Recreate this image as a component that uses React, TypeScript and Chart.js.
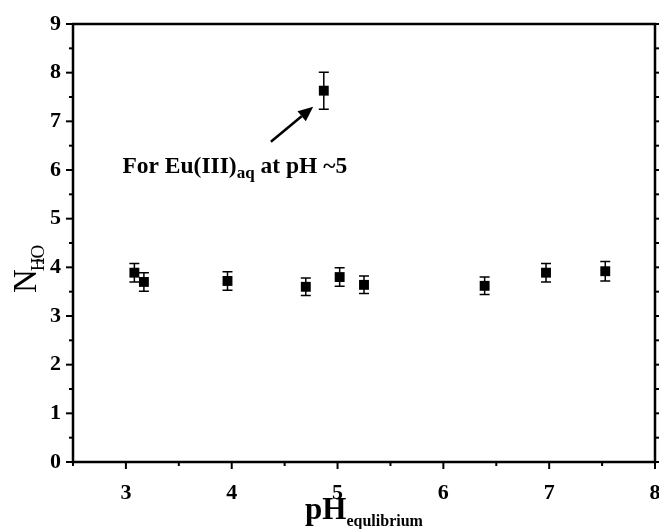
import React, { useEffect, useRef } from "react";
import { Chart, registerables } from "chart.js";

Chart.register(...registerables);

// ---- data ----
const phValues = [3.08, 3.17, 3.96, 4.70, 5.02, 5.25, 6.39, 6.97, 7.53, 4.87];
const nH2OValues = [3.89, 3.70, 3.72, 3.60, 3.80, 3.64, 3.62, 3.89, 3.92, 7.63];
const nH2OErrors = [0.19, 0.19, 0.19, 0.18, 0.19, 0.18, 0.18, 0.19, 0.20, 0.38];

const xMajorTicks = [3, 4, 5, 6, 7, 8];
const xMinorTicks = [2.5, 3.5, 4.5, 5.5, 6.5, 7.5];
const yMajorTicks = [0, 1, 2, 3, 4, 5, 6, 7, 8, 9];
const yMinorTicks = [0.5, 1.5, 2.5, 3.5, 4.5, 5.5, 6.5, 7.5, 8.5];

const annotationMain = "For Eu(III)";
const annotationSub = "aq";
const annotationRest = " at pH ~5";
const annotationAnchor = { x: 2.967, y: 5.94 };
const arrowTail = { x: 4.37, y: 6.58 };
const arrowHead = { x: 4.77, y: 7.3 };

const xTitleMain = "pH";
const xTitleSub = "equlibrium";
const yTitleMain = "N";
const yTitleSub = ["H", "2", "O"];

const SERIF = "'Liberation Serif', 'Times New Roman', serif";

const decorPlugin = {
  id: "decor",
  beforeDatasetsDraw(chart: any) {
    const ctx = chart.ctx;
    const xs = chart.scales.x;
    const ys = chart.scales.y;
    ctx.save();
    ctx.strokeStyle = "#000";
    ctx.lineWidth = 1.5;
    for (let i = 0; i < phValues.length; i++) {
      const px = xs.getPixelForValue(phValues[i]);
      const top = ys.getPixelForValue(nH2OValues[i] + nH2OErrors[i]);
      const bot = ys.getPixelForValue(nH2OValues[i] - nH2OErrors[i]);
      ctx.beginPath();
      ctx.moveTo(px, top);
      ctx.lineTo(px, bot);
      ctx.moveTo(px - 5, top);
      ctx.lineTo(px + 5, top);
      ctx.moveTo(px - 5, bot);
      ctx.lineTo(px + 5, bot);
      ctx.stroke();
    }
    ctx.restore();
  },
  afterDraw(chart: any) {
    const ctx = chart.ctx;
    const xs = chart.scales.x;
    const ys = chart.scales.y;
    const a = chart.chartArea;
    ctx.save();
    ctx.strokeStyle = "#000";
    ctx.fillStyle = "#000";
    ctx.lineWidth = 2.5;
    ctx.strokeRect(a.left, a.top, a.right - a.left, a.bottom - a.top);

    ctx.lineWidth = 2;
    const tick = (x1: number, y1: number, x2: number, y2: number) => {
      ctx.beginPath();
      ctx.moveTo(x1, y1);
      ctx.lineTo(x2, y2);
      ctx.stroke();
    };
    xMajorTicks.forEach((v) => {
      const p = xs.getPixelForValue(v);
      tick(p, a.bottom, p, a.bottom + 7);
    });
    xMinorTicks.forEach((v) => {
      const p = xs.getPixelForValue(v);
      tick(p, a.bottom, p, a.bottom + 4);
    });
    yMajorTicks.forEach((v) => {
      const p = ys.getPixelForValue(v);
      tick(a.left, p, a.left - 7, p);
      tick(a.right, p, a.right + 7, p);
    });
    yMinorTicks.forEach((v) => {
      const p = ys.getPixelForValue(v);
      tick(a.left, p, a.left - 4, p);
      tick(a.right, p, a.right + 4, p);
    });

    // arrow
    const tx = xs.getPixelForValue(arrowTail.x);
    const ty = ys.getPixelForValue(arrowTail.y);
    const hx = xs.getPixelForValue(arrowHead.x);
    const hy = ys.getPixelForValue(arrowHead.y);
    const ang = Math.atan2(hy - ty, hx - tx);
    const hl = 15;
    const hw = 6.5;
    const bx = hx - hl * Math.cos(ang);
    const by = hy - hl * Math.sin(ang);
    ctx.lineWidth = 2.5;
    ctx.beginPath();
    ctx.moveTo(tx, ty);
    ctx.lineTo(bx, by);
    ctx.stroke();
    ctx.beginPath();
    ctx.moveTo(hx, hy);
    ctx.lineTo(bx + hw * Math.sin(ang), by - hw * Math.cos(ang));
    ctx.lineTo(bx - hw * Math.sin(ang), by + hw * Math.cos(ang));
    ctx.closePath();
    ctx.fill();

    // annotation text
    const ax = xs.getPixelForValue(annotationAnchor.x);
    const ay = ys.getPixelForValue(annotationAnchor.y);
    ctx.textAlign = "left";
    ctx.textBaseline = "alphabetic";
    ctx.font = `bold 23.5px ${SERIF}`;
    ctx.fillText(annotationMain, ax, ay);
    let cx = ax + ctx.measureText(annotationMain).width;
    ctx.font = `bold 17px ${SERIF}`;
    ctx.fillText(annotationSub, cx, ay + 5);
    cx += ctx.measureText(annotationSub).width;
    ctx.font = `bold 23.5px ${SERIF}`;
    ctx.fillText(annotationRest, cx, ay);

    // x title
    ctx.font = `bold 31px ${SERIF}`;
    const wMain = ctx.measureText(xTitleMain).width;
    ctx.font = `bold 16px ${SERIF}`;
    const wSub = ctx.measureText(xTitleSub).width;
    const midX = (a.left + a.right) / 2;
    let sx = midX - (wMain + wSub) / 2;
    ctx.font = `bold 31px ${SERIF}`;
    ctx.fillText(xTitleMain, sx, 519);
    sx += wMain;
    ctx.font = `bold 16px ${SERIF}`;
    ctx.fillText(xTitleSub, sx, 526);

    // y title
    ctx.translate(36, 293);
    ctx.rotate(-Math.PI / 2);
    ctx.font = `33px ${SERIF}`;
    ctx.fillText(yTitleMain, 0, 0);
    let ry = ctx.measureText(yTitleMain).width - 2;
    ctx.font = `19px ${SERIF}`;
    ctx.fillText(yTitleSub[0], ry, 8);
    const hW = ctx.measureText(yTitleSub[0]).width;
    ctx.font = `13px ${SERIF}`;
    ctx.fillText(yTitleSub[1], ry + hW - 7, 8);
    ctx.font = `19px ${SERIF}`;
    ctx.fillText(yTitleSub[2], ry + hW - 1, 8);
    ctx.restore();
  },
};

export default function App() {
  const ref = useRef<HTMLCanvasElement | null>(null);
  useEffect(() => {
    if (!ref.current) return;
    const chart = new Chart(ref.current, {
      type: "scatter",
      data: {
        datasets: [
          {
            data: phValues.map((x, i) => ({ x, y: nH2OValues[i] })),
            pointStyle: "rect",
            pointRadius: 7,
            pointBackgroundColor: "#000",
            pointBorderColor: "#000",
            pointBorderWidth: 0,
          },
        ],
      },
      options: {
        responsive: false,
        animation: false,
        devicePixelRatio: 1,
        layout: { padding: { top: 24, right: 45, left: 0, bottom: 0 } },
        plugins: {
          legend: { display: false },
          tooltip: { enabled: false },
        },
        scales: {
          x: {
            type: "linear",
            min: 2.5,
            max: 8,
            grid: { display: false },
            border: { display: false },
            afterBuildTicks: (s: any) => {
              s.ticks = xMajorTicks.map((v) => ({ value: v }));
            },
            afterFit: (s: any) => {
              s.height = 67;
            },
            ticks: {
              color: "#000",
              padding: 10,
              maxRotation: 0,
              font: { family: SERIF, size: 22, weight: "bold" },
              callback: (v: any) => String(v),
            },
          },
          y: {
            type: "linear",
            min: 0,
            max: 9,
            grid: { display: false },
            border: { display: false },
            afterBuildTicks: (s: any) => {
              s.ticks = yMajorTicks.map((v) => ({ value: v }));
            },
            afterFit: (s: any) => {
              s.width = 73;
            },
            ticks: {
              color: "#000",
              padding: 4,
              font: { family: SERIF, size: 22, weight: "bold" },
              callback: (v: any) => String(v),
            },
          },
        },
      },
      plugins: [decorPlugin],
    });
    return () => chart.destroy();
  }, []);
  return (
    <div
      style={{
        position: "fixed",
        left: 0,
        top: 0,
        width: 659,
        height: 529,
        overflow: "hidden",
        background: "#fff",
      }}
    >
      <canvas ref={ref} width={700} height={529} style={{ display: "block" }} />
    </div>
  );
}
